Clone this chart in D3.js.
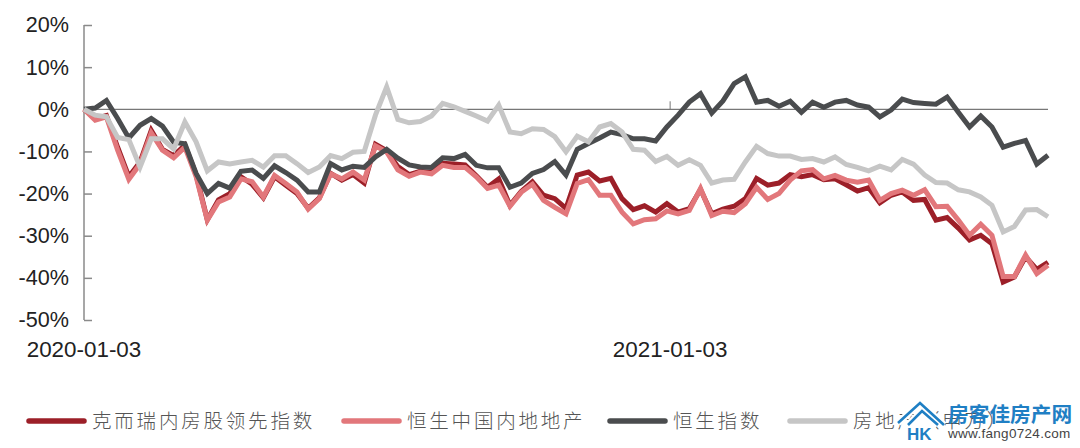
<!DOCTYPE html>
<html lang="zh">
<head>
<meta charset="utf-8">
<style>
  html, body { margin: 0; padding: 0; background: #fff; }
  svg { display: block; }
  .tick-label { font-family: "Liberation Sans", Arial, sans-serif; font-size: 21.6px; fill: #222; }
  .date-label { font-family: "Liberation Sans", Arial, sans-serif; font-size: 22.4px; fill: #222; }
  .legend-label { font-family: "Noto Sans CJK SC", sans-serif; font-size: 19.5px; font-weight: 300; letter-spacing: 2.8px; fill: #555; }
</style>
<script src="https://cdn.jsdelivr.net/npm/d3@7/dist/d3.min.js"></script>
</head>
<body>
<svg id="chart" width="1080" height="448"></svg>
<script>
// Weekly cumulative returns (%), one value per week starting 2020-01-03.
const leadingIndex = [0,-2.2,-1.5,-9,-16,-12.5,-5,-9.5,-11,-8.5,-15.5,-26.2,-21.5,-20,-16,-17.8,-21,-16,-18,-20,-23.5,-21,-15.2,-16.8,-15.5,-17.5,-8.3,-9.8,-13.6,-15.5,-14.7,-15,-12.8,-13,-13.2,-15.8,-18.5,-16.5,-22.8,-19.5,-17.2,-20.4,-21.2,-23.5,-15.6,-14.9,-17,-16.4,-21.2,-23.8,-22.9,-24.4,-22.4,-24.4,-23.6,-19,-24.8,-23.7,-23,-21.2,-16.4,-18,-17.5,-15.5,-16,-15.5,-16.7,-16.5,-17.9,-19.4,-18.6,-22.2,-20.4,-19.6,-21.6,-21.4,-26.3,-25.7,-28.2,-31,-29.9,-31.9,-41,-39.8,-35,-38,-36.3];
const hsMainland = [0,-2.6,-1.8,-9.7,-16.6,-13,-5.6,-9.7,-11.5,-9,-16,-26.3,-22,-20.8,-16.5,-17.2,-20.8,-15.7,-17.6,-19.6,-23.7,-21.2,-15.3,-16.5,-14.9,-16.8,-8.7,-10.1,-14.4,-15.9,-14.9,-15.3,-13.3,-13.8,-13.8,-16,-18.8,-18,-23,-19.7,-17.8,-21.6,-23.3,-24.8,-17.6,-16.7,-20.4,-20.4,-24.4,-27.2,-26.2,-26,-24.1,-24.8,-24,-18.8,-25.2,-24.2,-24.5,-22.4,-18.5,-21.4,-20,-16.8,-14.6,-14.3,-16.5,-15.7,-16.8,-17.3,-16.8,-21.6,-20,-19.2,-20.4,-19.1,-23.1,-23,-26.3,-29.9,-27.3,-29.9,-39.7,-39.7,-34.6,-39,-37];
const hangSeng = [0,0.3,2.1,-2.2,-6.8,-3.8,-2.2,-4,-7.8,-8.2,-15.2,-20,-17.6,-18.7,-14.7,-14.4,-16.4,-13.4,-15,-16.8,-19.6,-19.6,-12.9,-14.4,-13.5,-13.8,-11.3,-9.5,-11.6,-13.2,-13.7,-13.8,-11.5,-11.7,-10.7,-13.3,-13.9,-13.9,-18.5,-17.5,-15.2,-14.3,-12.4,-15.6,-9.5,-8.1,-6.8,-5.4,-6,-7,-7,-7.5,-4.2,-1.4,1.7,3.7,-0.9,2,6.1,7.7,1.7,2.1,0.7,1.9,-0.7,1.7,0.5,1.7,2.1,1,0.5,-1.8,-0.2,2.4,1.6,1.4,1.2,2.9,-0.7,-4.2,-1.6,-4.2,-9,-8.1,-7.4,-13,-10.9];
const realEstate = [0,-1.4,-1.8,-6.7,-7.2,-13.7,-7,-7,-9.4,-3,-7.7,-14.6,-12.5,-13,-12.5,-12.1,-13.7,-11,-11,-12.9,-15,-13.7,-11,-11.7,-10.2,-10,-1.4,5.3,-2.4,-3.2,-2.9,-1.6,1.4,0.6,-0.5,-1.6,-2.8,1,-5.4,-5.8,-4.6,-4.8,-6.5,-10.1,-6.4,-7.7,-4.2,-3.4,-5.4,-9.5,-9.7,-12.4,-11.2,-13.3,-12,-13.3,-17.5,-16.8,-16.6,-12.5,-8.8,-10.5,-11.1,-11.1,-11.9,-11.7,-12.5,-11.3,-13.1,-13.8,-14.6,-13.5,-14.4,-11.9,-13,-15.6,-17.4,-17.5,-19.1,-19.6,-20.8,-22.8,-29.1,-27.8,-23.9,-23.8,-25.5];

const percentTicks = [20, 10, 0, -10, -20, -30, -40, -50];
// Positions are in weeks from the first observation (366 days / 7 for the second label).
const dateLabels = [
  { index: 0, text: "2020-01-03" },
  { index: 52.29, text: "2021-01-03" }
];
const seriesNames = ["克而瑞内房股领先指数", "恒生中国内地地产", "恒生指数", "房地产（申万）"];
const seriesColors = ["#9c1f28", "#e2777b", "#4a4c4e", "#c6c6c6"];
const seriesValues = [leadingIndex, hsMainland, hangSeng, realEstate];

const svg = d3.select("#chart");
const x = d3.scaleLinear().domain([0, leadingIndex.length - 1]).range([84, 1048]);
const y = d3.scaleLinear().domain([-50, 20]).range([320, 25]);

// Value axis: the domain line and inward ticks on the left edge.
const axisColor = "#8a8a8a";
const yAxis = d3.axisLeft(y).tickValues(percentTicks).tickSize(-8).tickPadding(15)
  .tickFormat(d => d + "%");
const yG = svg.append("g").attr("transform", "translate(84,0)").call(yAxis);
yG.select(".domain").attr("stroke", axisColor).attr("stroke-width", 1.5).attr("d", `M0,${y(20)}V${y(-50)}`);
yG.selectAll(".tick line").attr("stroke", axisColor).attr("stroke-width", 1.5);
yG.selectAll(".tick text").attr("class", "tick-label").attr("fill", null);

// Date axis sits on the zero line, with labels below the plot.
const zeroG = svg.append("g");
zeroG.append("line").attr("x1", x(0)).attr("x2", x(86)).attr("y1", y(0)).attr("y2", y(0))
  .attr("stroke", "#777").attr("stroke-width", 1.2);
zeroG.append("line").attr("x1", x(dateLabels[1].index)).attr("x2", x(dateLabels[1].index)).attr("y1", y(0)).attr("y2", y(0) - 8)
  .attr("stroke", "#777").attr("stroke-width", 1);
svg.selectAll(".date").data(dateLabels).join("text")
  .attr("class", "date-label")
  .attr("x", d => x(d.index)).attr("y", 357)
  .attr("text-anchor", "middle")
  .text(d => d.text);

// Series lines, drawn in legend order so later ones sit on top.
const line = d3.line().x((d, i) => x(i)).y(d => y(d)).curve(d3.curveLinear);
svg.selectAll(".series").data(seriesValues).join("path")
  .attr("class", "series")
  .attr("fill", "none")
  .attr("stroke", (d, i) => seriesColors[i])
  .attr("stroke-width", 5)
  .attr("stroke-linejoin", "miter")
  .attr("d", line);

// Legend row.
const legendX = [27, 342, 608, 788];
const legend = svg.selectAll(".legend").data(seriesNames).join("g")
  .attr("class", "legend")
  .attr("transform", (d, i) => `translate(${legendX[i]},421)`);
legend.append("line").attr("x1", 2).attr("x2", 57).attr("y1", 0).attr("y2", 0)
  .attr("stroke", (d, i) => seriesColors[i]).attr("stroke-width", 5.5).attr("stroke-linecap", "round");
legend.append("text").attr("class", "legend-label").attr("x", 65).attr("y", 7).text(d => d);

// Site mark in the lower right corner.
const mark = svg.append("g").attr("transform", "translate(895,402)");
mark.append("path").attr("d", "M3,21 L25,1 L49,23 M13,23 L27,9 L43,23")
  .attr("fill", "none").attr("stroke", "#fff").attr("stroke-width", 7);
mark.append("path").attr("d", "M3,21 L25,1 L49,23 M13,23 L27,9 L43,23")
  .attr("fill", "none").attr("stroke", "#1f7fc4").attr("stroke-width", 2.6);
mark.append("text").attr("x", 12).attr("y", 38).attr("font-family", "Liberation Sans, sans-serif")
  .attr("font-size", 17).attr("font-weight", 700).attr("fill", "#1f7fc4").text("HK");
mark.append("text").attr("x", 53).attr("y", 20).attr("font-family", "Noto Sans CJK SC, sans-serif")
  .attr("font-size", 20.7).attr("font-weight", 700).attr("fill", "#1f7fc4").text("房客佳房产网");
mark.append("text").attr("x", 53).attr("y", 36).attr("font-family", "Liberation Sans, sans-serif")
  .attr("font-size", 13.5).attr("letter-spacing", 0.3).attr("fill", "#444").text("www.fang0724.com");
</script>
</body>
</html>
